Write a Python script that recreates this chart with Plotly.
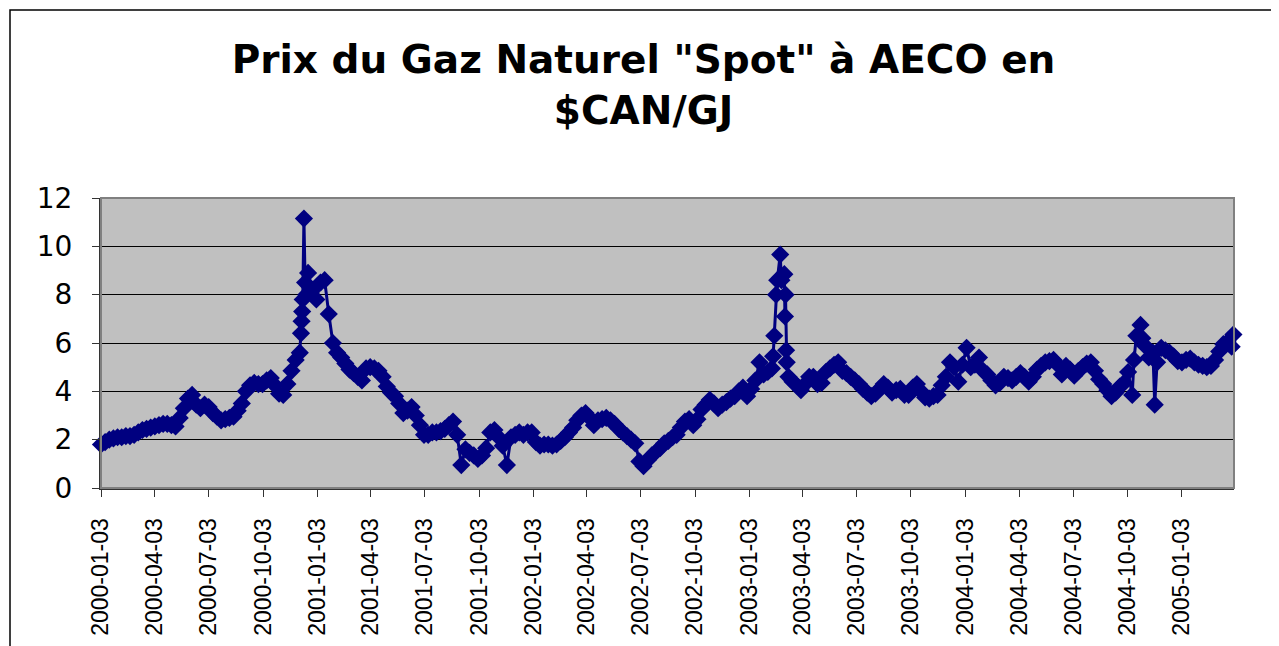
import pandas as pd
import plotly.graph_objects as go

# Weekly spot prices (Mondays from 2000-01-03), $CAN/GJ
week_start = "2000-01-03"
weekly_prices = [
    1.80, 1.90, 2.00, 2.05, 2.10, 2.10, 2.15, 2.15, 2.20, 2.30,
    2.40, 2.45, 2.50, 2.55, 2.60, 2.65, 2.65, 2.60, 2.55, 2.90,
    3.30, 3.70, 3.85, 3.45, 3.30, 3.45, 3.35, 3.10, 2.95, 2.80,
    2.85, 2.90, 2.95, 3.20, 3.50, 4.00, 4.25, 4.35, 4.30, 4.30,
    4.45, 4.55, 4.25, 3.90, 3.85, 4.30, 4.85, 5.30, 5.60, 11.15,
    8.90, 8.20, 7.80, 8.50, 8.60, 7.20, 6.00, 5.60, 5.40, 5.15,
    4.90, 4.75, 4.60, 4.45, 4.95, 5.00, 4.95, 4.85, 4.60, 4.20,
    3.95, 3.80, 3.50, 3.10, 3.20, 3.35, 3.00, 2.60, 2.20, 2.20,
    2.30, 2.30, 2.35, 2.45, 2.60, 2.75, 2.20, 0.95, 1.60, 1.45,
    1.35, 1.20, 1.35, 1.65, 2.30, 2.40, 2.10, 1.75, 0.95, 2.10,
    2.20, 2.30, 2.20, 2.30, 2.30, 1.90, 1.75, 1.80, 1.80, 1.75,
    1.80, 1.95, 2.10, 2.30, 2.50, 2.80, 3.00, 3.10, 2.90, 2.60,
    2.80, 2.85, 2.90, 2.80, 2.65, 2.45, 2.30, 2.15, 2.00, 1.85,
    1.10, 0.90, 1.15, 1.35, 1.50, 1.65, 1.85, 1.95, 2.10, 2.20,
    2.50, 2.75, 2.85, 2.60, 2.85, 3.25, 3.45, 3.65, 3.50, 3.30,
    3.45, 3.55, 3.70, 3.80, 4.00, 4.15, 3.80, 4.10, 4.45, 5.20,
    4.70, 4.80, 4.95, 8.00, 9.66, 8.85, 4.60, 4.40, 4.25, 4.05,
    4.30, 4.60, 4.60, 4.30, 4.35, 4.80, 4.95, 5.10, 5.20, 4.85,
    4.75, 4.60, 4.45, 4.30, 4.10, 3.95, 3.80, 3.90, 4.10, 4.30,
    4.15, 3.95, 4.05, 4.10, 3.85, 3.85, 4.15, 4.30, 4.00, 3.75,
    3.70, 3.80, 3.85, 4.25, 4.60, 5.20, 5.00, 4.40, 5.10, 5.80,
    5.00, 5.10, 5.40, 4.85, 4.70, 4.45, 4.25, 4.35, 4.60, 4.55,
    4.45, 4.60, 4.75, 4.60, 4.40, 4.60, 4.90, 5.05, 5.20, 5.25,
    5.30, 5.10, 4.70, 5.05, 4.90, 4.65, 4.85, 5.00, 5.15, 5.20,
    4.85, 4.50, 4.30, 4.05, 3.80, 3.95, 4.20, 4.35, 4.80, 3.85,
    6.30, 6.75, 5.90, 5.40, 5.60, 5.20, 5.80, 5.70, 5.60, 5.45,
    5.25, 5.20, 5.30, 5.35, 5.20, 5.10, 5.05, 5.00, 5.05, 5.30,
    5.65, 5.95, 6.05, 5.85,
]

# Additional daily readings around the price spikes
extra_dates = [
    "2000-12-06", "2000-12-07", "2000-12-08", "2000-12-09", "2000-12-13", "2000-12-15",
    "2003-02-12", "2003-02-14", "2003-02-19", "2003-02-26",
    "2003-03-04", "2003-03-05", "2003-03-06", "2003-03-07",
    "2004-10-14", "2004-10-28", "2004-11-18",
    "2005-03-31",
]
extra_prices = [
    6.40, 6.90, 7.30, 7.80, 8.50, 8.00,
    5.45, 6.30, 8.60, 8.60,
    7.10, 8.00, 5.70, 5.20,
    5.30, 6.20, 3.45,
    6.35,
]

tick_dates = [
    "2000-01-03", "2000-04-03", "2000-07-03", "2000-10-03",
    "2001-01-03", "2001-04-03", "2001-07-03", "2001-10-03",
    "2002-01-03", "2002-04-03", "2002-07-03", "2002-10-03",
    "2003-01-03", "2003-04-03", "2003-07-03", "2003-10-03",
    "2004-01-03", "2004-04-03", "2004-07-03", "2004-10-03",
    "2005-01-03",
]
y_ticks = [0, 2, 4, 6, 8, 10, 12]

title_text = 'Prix du Gaz Naturel "Spot" à AECO en<br>$CAN/GJ'

weekly = pd.DataFrame({
    "date": pd.date_range(week_start, periods=len(weekly_prices), freq="7D"),
    "price": weekly_prices,
})
extra = pd.DataFrame({"date": pd.to_datetime(extra_dates), "price": extra_prices})
data = pd.concat([weekly, extra]).sort_values("date").reset_index(drop=True)

# The page body adds an 8px offset; the figure is sized to fill the rest
OFF = 8
W, H = 1279 - OFF, 646 - OFF
L, R, T, B = 101 - OFF, 45, 198 - OFF, 158
pw, ph = W - L - R, H - T - B

navy = "#000080"
fig = go.Figure()
fig.add_trace(go.Scatter(
    x=data["date"], y=data["price"], mode="lines+markers",
    line=dict(color=navy, width=3),
    marker=dict(symbol="diamond", size=14, color=navy, line=dict(width=0)),
    cliponaxis=False, showlegend=False,
))

def px_x(p):  # page pixel -> paper x
    return (p - OFF - L) / pw

def px_y(p):  # page pixel -> paper y
    return (T + ph - (p - OFF)) / ph

fig.update_layout(
    width=W, height=H,
    margin=dict(l=L, r=R, t=T, b=B, autoexpand=False),
    paper_bgcolor="white", plot_bgcolor="#C0C0C0",
    title=dict(
        text=title_text, x=0.5, xanchor="center", xref="container",
        y=1 - 65 / H, yanchor="top", yref="container",
        font=dict(family="DejaVu Sans", size=39, color="black", weight="bold"),
    ),
    xaxis=dict(
        type="date", range=["2000-01-03", "2005-04-01"],
        tickmode="array", tickvals=tick_dates, ticktext=tick_dates,
        tickangle=-90, ticks="outside", ticklen=7, tickcolor="#333",
        showgrid=False, showline=True, linecolor="#333", linewidth=2,
        tickfont=dict(family="Liberation Sans, Arial", size=23, color="black"),
        ticklabelstandoff=12,
    ),
    yaxis=dict(
        range=[0, 12], tickmode="array", tickvals=y_ticks,
        ticks="outside", ticklen=7, tickcolor="#333",
        showgrid=True, gridcolor="black", gridwidth=1,
        zeroline=False, showline=True, linecolor="#333", linewidth=2,
        tickfont=dict(family="DejaVu Sans", size=28, color="black"),
        ticklabelstandoff=14,
    ),
    shapes=[
        dict(type="rect", xref="paper", yref="paper", x0=0, x1=1, y0=0, y1=1,
             line=dict(color="#808080", width=2), layer="above"),
        dict(type="rect", xref="paper", yref="paper",
             x0=px_x(10), x1=px_x(1276), y0=px_y(660), y1=px_y(10),
             line=dict(color="black", width=1.5), layer="above"),
    ],
)

fig.write_html("out.html")
